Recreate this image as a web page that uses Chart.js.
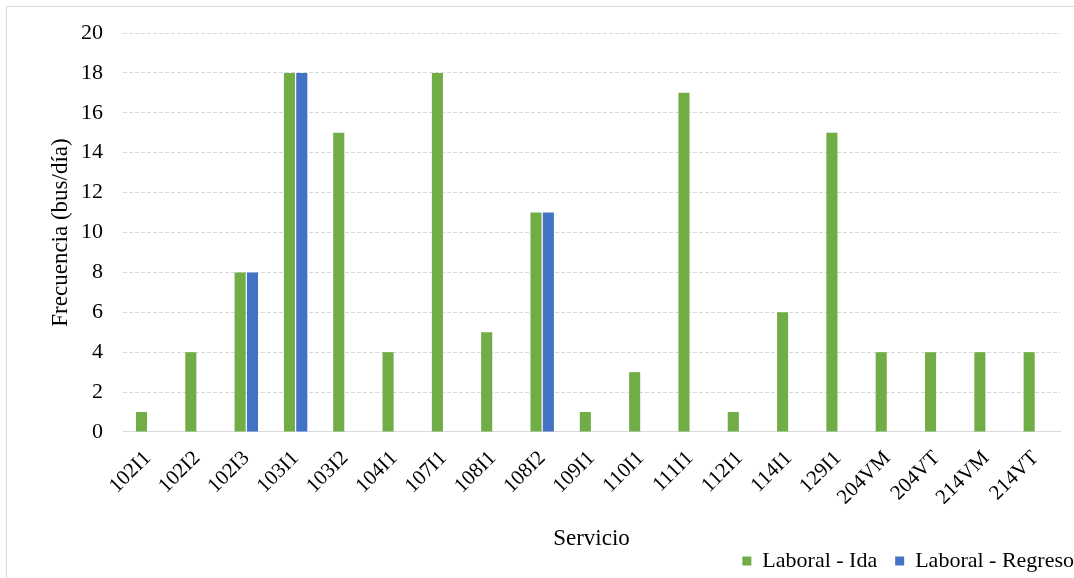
<!DOCTYPE html>
<html>
<head>
	<meta http-equiv="Content-Type" content="text/html; charset=utf-8">
	<title>Frecuencia por servicio</title>
	<script src="https://cdn.jsdelivr.net/npm/chart.js"></script>
	<style>
		body { margin:0; background:#fff; overflow:hidden; }
		#frame { position:absolute; left:6px; top:6px; width:1100px; height:580px;
			border:1px solid #d9d9d9; }
		#freqChart { position:absolute; left:0; top:0; }
	</style>
</head>
<body>
<div id="frame"><canvas id="freqChart" width="1085" height="570"></canvas></div>
<script>
// servicios y frecuencias (bus/día)
const servicios = ["102I1","102I2","102I3","103I1","103I2","104I1","107I1","108I1","108I2",
	"109I1","110I1","111I1","112I1","114I1","129I1","204VM","204VT","214VM","214VT"];
const laboralIda = [1,4,8,18,15,4,18,5,11,1,3,17,1,6,15,4,4,4,4];
const laboralRegreso = [null,null,8,18,null,null,null,null,11,null,null,null,null,null,null,null,null,null,null];
const yTicks = [0,2,4,6,8,10,12,14,16,18,20];

const serif = "'Liberation Serif', 'DejaVu Serif', serif";

new Chart(document.getElementById("freqChart"), {
	type: 'bar',
	data: {
		labels: servicios,
		datasets: [
			{ label: "Laboral - Ida", data: laboralIda, backgroundColor: '#70AD47',
				categoryPercentage: 0.5, barPercentage: 0.9 },
			{ label: "Laboral - Regreso", data: laboralRegreso, backgroundColor: '#4472C4',
				categoryPercentage: 0.5, barPercentage: 0.9 }
		]
	},
	options: {
		responsive: false,
		animation: false,
		layout: { padding: { left: 42, right: 0, top: 26, bottom: -5 } },
		plugins: {
			tooltip: { enabled: false },
			legend: {
				position: 'bottom',
				align: 'end',
				labels: { font: { family: serif, size: 22 }, color: '#000',
					boxWidth: 9, boxHeight: 9, padding: 18 }
			}
		},
		scales: {
			x: {
				grid: { display: false },
				border: { color: '#d9d9d9' },
				ticks: { font: { family: serif, size: 21 }, color: '#000',
					minRotation: 45, maxRotation: 45, padding: 6 },
				title: { display: true, text: "Servicio",
					font: { family: serif, size: 23, lineHeight: 1 }, color: '#000',
					padding: { top: 11, bottom: -18 } }
			},
			y: {
				min: 0, max: 20,
				afterBuildTicks: axis => { axis.ticks = yTicks.map(v => ({ value: v })); },
				afterFit: axis => { axis.width = 74; },
				// invisible tick marks keep the labels clear of the plot
				grid: { color: '#d9d9d9', tickColor: 'rgba(0,0,0,0)', tickLength: 16 },
				border: { display: false, dash: [4, 2] },
				ticks: { font: { family: serif, size: 22 }, color: '#000', padding: 4 },
				title: { display: true, text: "Frecuencia (bus/día)",
					font: { family: serif, size: 23, lineHeight: 1 }, color: '#000', padding: 0 }
			},
			// blank strip between the plot and the canvas edge
			yRight: {
				position: 'right', min: 0, max: 20,
				afterFit: axis => { axis.width = 32; },
				grid: { display: false, drawOnChartArea: false },
				border: { display: false },
				ticks: { display: false }
			}
		}
	}
});
</script>
</body>
</html>
